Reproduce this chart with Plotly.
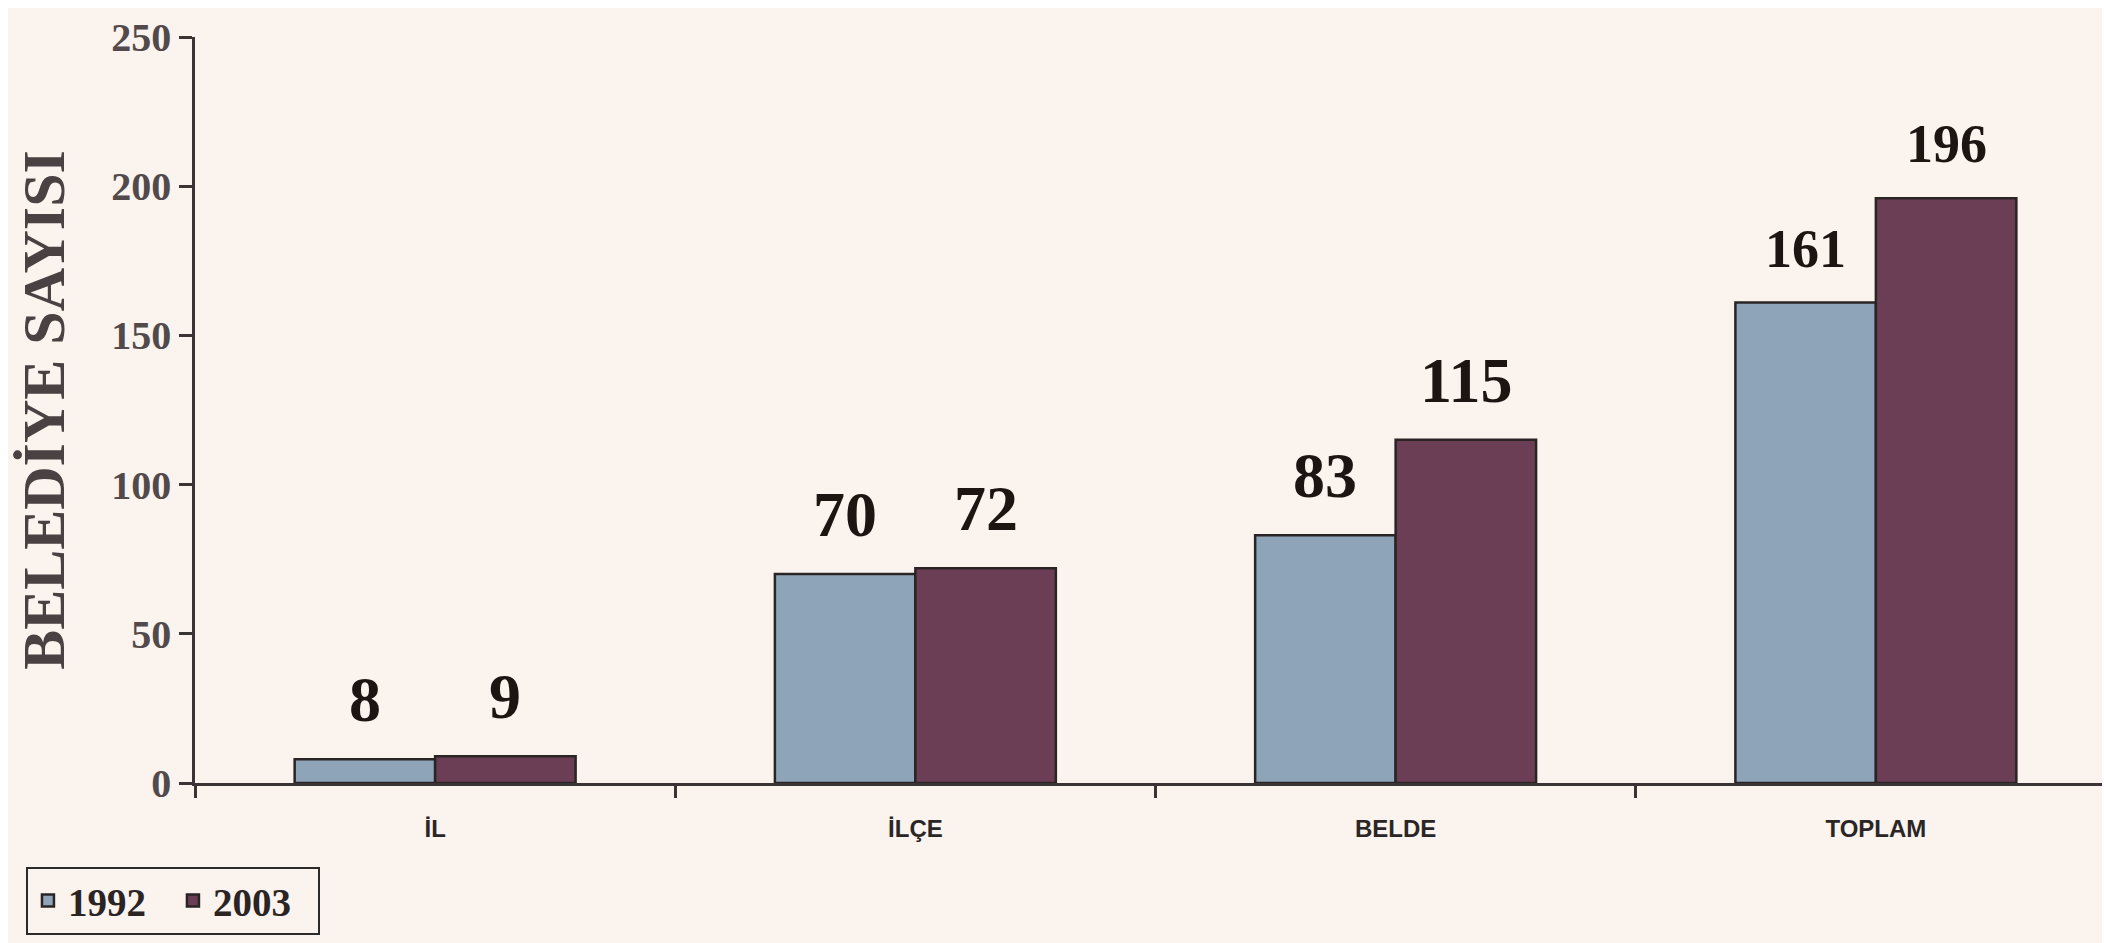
import plotly.graph_objects as go

categories = ["İL", "İLÇE", "BELDE", "TOPLAM"]
series_names = ["1992", "2003"]
values_1992 = [8, 70, 83, 161]
values_2003 = [9, 72, 115, 196]
y_ticks = [0, 50, 100, 150, 200, 250]
y_title = "BELEDİYE SAYISI"

BG = "#faf3ee"
C1992 = "#8ea4b9"
C2003 = "#6b3e56"
SERIF = "Liberation Serif, Times New Roman, serif"
SANS = "Liberation Sans, Arial, sans-serif"

fig = go.Figure()
for name, vals, col in [(series_names[0], values_1992, C1992), (series_names[1], values_2003, C2003)]:
    fig.add_trace(go.Bar(
        name=name, x=categories, y=vals,
        marker=dict(color=col, line=dict(color="#2b2424", width=2.5)),
    ))

# value labels above bars
L, R, T, B = 187, 2, 29, 168
plot_w = 2110 - L - R
cat_w = plot_w / len(categories)
bargap = 0.415
half = cat_w * (1 - bargap) / 4
for i, cat in enumerate(categories):
    big = 64 if i < 3 else 54
    for vals, sh in [(values_1992, -half), (values_2003, half)]:
        fig.add_annotation(
            x=cat, y=vals[i], xref="x", yref="y",
            text=str(vals[i]), showarrow=False,
            xshift=sh, yshift=22, yanchor="bottom",
            font=dict(family=SERIF, size=big, color="#1c1512", weight="bold"),
        )

fig.update_layout(
    width=2110, height=943,
    margin=dict(l=L, r=R, t=T, b=B),
    paper_bgcolor=BG, plot_bgcolor=BG,
    barmode="group", bargap=bargap, bargroupgap=0,
    showlegend=True,
    legend=dict(
        orientation="h", x=-0.088, y=-0.112, xanchor="left", yanchor="top",
        bgcolor=BG, bordercolor="#2b2b2b", borderwidth=2,
        font=dict(family=SERIF, size=39, color="#2a2424", weight="bold"),
        itemwidth=30, tracegroupgap=0,
        entrywidth=100, entrywidthmode="pixels",
    ),
    xaxis=dict(
        type="category", tickson="boundaries",
        showline=True, linecolor="#3a3434", linewidth=2.5,
        ticks="outside", ticklen=12, tickwidth=2.5, tickcolor="#3a3434",
        showgrid=False, zeroline=False,
        tickfont=dict(family=SANS, size=24, color="#2a2626", weight="bold"),
        ticklabelstandoff=22,
    ),
    yaxis=dict(
        range=[0, 250], tickvals=y_ticks,
        showline=True, linecolor="#3a3434", linewidth=2.5,
        ticks="outside", ticklen=13, tickwidth=2.5, tickcolor="#3a3434",
        showgrid=False, zeroline=False,
        tickfont=dict(family=SERIF, size=40, color="#524a4a", weight="bold"),
        title=dict(text=y_title, standoff=28,
                   font=dict(family=SERIF, size=60, color="#4a4242", weight="bold")),
    ),
)

fig.write_html("out.html")
